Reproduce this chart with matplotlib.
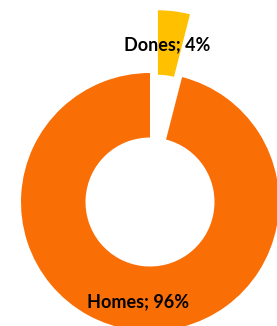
import matplotlib
matplotlib.use('Agg')
import matplotlib.pyplot as plt

# data
labels = ['Dones', 'Homes']
shares = [4, 96]
colors = ['#FFC000', '#FA6E06']
explode_frac = [0.49, 0]

fig = plt.figure(figsize=(2.77, 3.26), dpi=100)
ax = fig.add_axes([0, 0, 1, 1])

# work in pixel units so the cropped donut lines up with the original
R = 129
cx, cy = 150, 124
# pie's explode is in data units, so scale it by the radius
wedges, _ = ax.pie(shares, colors=colors, explode=[e * R for e in explode_frac],
                   radius=R, center=(cx, cy),
                   startangle=90, counterclock=False,
                   wedgeprops=dict(width=R * 0.5, linewidth=0))

ax.set_xlim(0, 277)
ax.set_ylim(0, 326)
ax.set_aspect('equal')
ax.axis('off')

txt = ['%s; %d%%' % (l, s) for l, s in zip(labels, shares)]
ax.text(167, 281, txt[0], ha='center', va='center', fontsize=13,
        fontweight='bold', family='Lato', color='black')
ax.text(138, 24, txt[1], ha='center', va='center', fontsize=13,
        fontweight='bold', family='Lato', color='black')

fig.savefig('out.png', dpi=100)
